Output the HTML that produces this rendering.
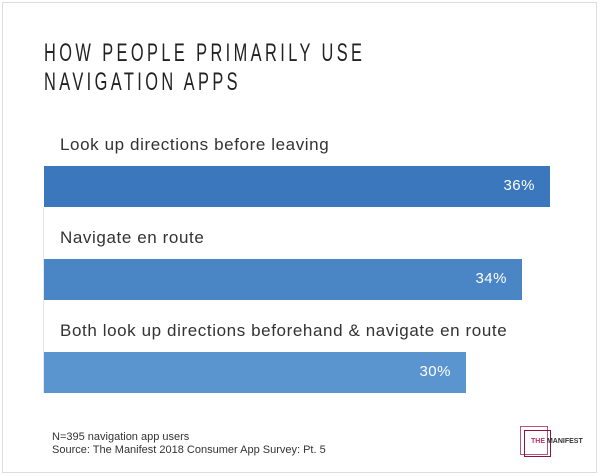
<!DOCTYPE html>
<html><head><style>
body{margin:0;width:600px;height:476px;background:#fff;position:relative;overflow:hidden;font-family:"Liberation Sans",sans-serif}
.a{position:absolute}
.t{font-size:25px;letter-spacing:5.2px;color:#222;transform:scaleX(0.655);transform-origin:0 0;white-space:nowrap;line-height:30px}
.l{font-size:17px;letter-spacing:0.6px;color:#333;white-space:nowrap}
.b{height:41px}
.p{color:#fff;font-size:15px;letter-spacing:0.5px;text-align:right}
.f{font-size:11px;color:#333;line-height:13px}
</style></head><body>
<div class="a" style="left:2px;top:2px;width:593px;height:469px;border:1px solid #ddd"></div>
<div class="a t" style="left:44px;top:38px">HOW PEOPLE PRIMARILY USE</div>
<div class="a t" style="left:44px;top:67px">NAVIGATION APPS</div>
<div class="a" style="left:43px;top:207px;width:1px;height:186px;background:#e6e6e6"></div>
<div class="a l" style="left:60px;top:135px">Look up directions before leaving</div>
<div class="a b" style="left:44px;top:166px;width:506px;background:#3b77bc"></div>
<div class="a p" style="left:44px;top:177px;width:491px">36%</div>
<div class="a l" style="left:60px;top:228px">Navigate en route</div>
<div class="a b" style="left:44px;top:259px;width:478px;background:#4a86c6"></div>
<div class="a p" style="left:44px;top:270px;width:463px">34%</div>
<div class="a l" style="left:60px;top:321px">Both look up directions beforehand &amp; navigate en route</div>
<div class="a b" style="left:44px;top:352px;width:422px;background:#5b95cf"></div>
<div class="a p" style="left:44px;top:363px;width:407px">30%</div>
<div class="a f" style="left:52px;top:431px">N=395 navigation app users<br>Source: The Manifest 2018 Consumer App Survey: Pt. 5</div>
<div class="a" style="left:520px;top:426px;width:26px;height:27px;border:1px solid #b5577a"></div>
<div class="a" style="left:524px;top:430px;width:25px;height:25px;border:1px solid #8a1538"></div>
<div class="a" style="left:531px;top:438px;font-size:7px;font-weight:bold;white-space:nowrap"><span style="color:#b5356a">THE</span> <span style="color:#333">MANIFEST</span></div>
</body></html>
